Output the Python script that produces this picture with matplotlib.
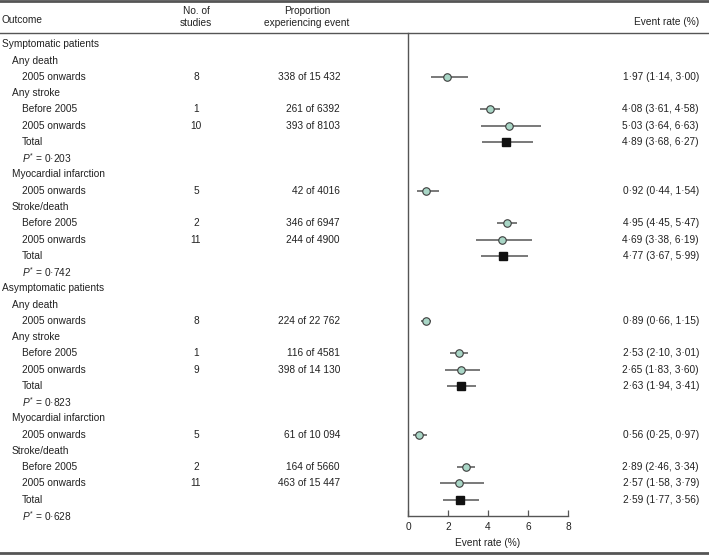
import matplotlib
matplotlib.use('Agg')
import matplotlib.pyplot as plt
from matplotlib.lines import Line2D
from matplotlib.transforms import blended_transform_factory

plt.rcParams['font.family'] = ['Liberation Sans', 'DejaVu Sans']
plt.rcParams['mathtext.fontset'] = 'custom'
plt.rcParams['mathtext.rm'] = 'Liberation Sans'
plt.rcParams['mathtext.it'] = 'Liberation Sans:italic'

# 表格数据 (每行一项)
labels = ['Symptomatic patients', 'Any death', '2005 onwards',
          'Any stroke', 'Before 2005', '2005 onwards', 'Total', r'$P^{*}$ = 0·203',
          'Myocardial infarction', '2005 onwards',
          'Stroke/death', 'Before 2005', '2005 onwards', 'Total', r'$P^{*}$ = 0·742',
          'Asymptomatic patients', 'Any death', '2005 onwards',
          'Any stroke', 'Before 2005', '2005 onwards', 'Total', r'$P^{*}$ = 0·823',
          'Myocardial infarction', '2005 onwards',
          'Stroke/death', 'Before 2005', '2005 onwards', 'Total', r'$P^{*}$ = 0·628']
indent = [0, 1, 2, 1, 2, 2, 2, 2, 1, 2, 1, 2, 2, 2, 2,
          0, 1, 2, 1, 2, 2, 2, 2, 1, 2, 1, 2, 2, 2, 2]
n_studies = ['', '', '8', '', '1', '10', '', '', '', '5', '', '2', '11', '', '',
             '', '', '8', '', '1', '9', '', '', '', '5', '', '2', '11', '', '']
events = ['', '', '338 of 15 432', '', '261 of 6392', '393 of 8103', '', '',
          '', '42 of 4016', '', '346 of 6947', '244 of 4900', '', '',
          '', '', '224 of 22 762', '', '116 of 4581', '398 of 14 130', '', '',
          '', '61 of 10 094', '', '164 of 5660', '463 of 15 447', '', '']
rate = [None, None, 1.97, None, 4.08, 5.03, 4.89, None, None, 0.92,
        None, 4.95, 4.69, 4.77, None,
        None, None, 0.89, None, 2.53, 2.65, 2.63, None, None, 0.56,
        None, 2.89, 2.57, 2.59, None]
lower = [None, None, 1.14, None, 3.61, 3.64, 3.68, None, None, 0.44,
         None, 4.45, 3.38, 3.67, None,
         None, None, 0.66, None, 2.10, 1.83, 1.94, None, None, 0.25,
         None, 2.46, 1.58, 1.77, None]
upper = [None, None, 3.00, None, 4.58, 6.63, 6.27, None, None, 1.54,
         None, 5.47, 6.19, 5.99, None,
         None, None, 1.15, None, 3.01, 3.60, 3.41, None, None, 0.97,
         None, 3.34, 3.79, 3.56, None]
is_total = [lab == 'Total' for lab in labels]

TXT = '#222222'
FS = 7.3

fig = plt.figure(figsize=(7.09, 5.55), dpi=100)
W, H = 709, 555
# 背景坐标 (像素)
ax0 = fig.add_axes([0, 0, 1, 1])
ax0.set_xlim(0, W)
ax0.set_ylim(H, 0)
ax0.axis('off')

# 森林图坐标轴
ax = fig.add_axes([408 / W, (H - 516) / H, 160 / W, (516 - 33) / H])
ax.set_xlim(0, 8)
ax.set_ylim(29.0, -0.7)
ax.patch.set_alpha(0)
for s in ['top', 'right']:
    ax.spines[s].set_visible(False)
for s in ['left', 'bottom']:
    ax.spines[s].set_color('#555555')
    ax.spines[s].set_linewidth(1.0)
ax.set_yticks([])
ax.set_xticks([0, 2, 4, 6, 8])
ax.tick_params(axis='x', direction='in', length=4, width=0.9, color='#555555',
               labelsize=FS, labelcolor=TXT, pad=4)
ax.set_xlabel('Event rate (%)', fontsize=FS, color=TXT, labelpad=5)

# 横线
for y, lw in [(1.2, 2.0), (33, 1.0), (553, 2.0)]:
    ax0.add_line(Line2D([0, W], [y, y], color='#555555', lw=lw))

# 表头
ax0.text(2, 20, 'Outcome', fontsize=FS, color=TXT, va='center')
ax0.text(196, 17, 'No. of\nstudies', fontsize=FS, color=TXT, ha='center', va='center', linespacing=1.35)
ax0.text(307, 17, 'Proportion\nexperiencing event', fontsize=FS, color=TXT, ha='center', va='center',
         linespacing=1.35)
ax0.text(699, 22, 'Event rate (%)', fontsize=FS, color=TXT, ha='right', va='center')

trans = blended_transform_factory(ax0.transData, ax.transData)
for i, lab in enumerate(labels):
    ax.text(1.5 + indent[i] * 10, i, lab, transform=trans, fontsize=FS, color=TXT, va='center')
    if n_studies[i]:
        ax.text(196, i, n_studies[i], transform=trans, fontsize=FS, color=TXT, ha='center', va='center')
    if events[i]:
        ax.text(340, i, events[i], transform=trans, fontsize=FS, color=TXT, ha='right', va='center')
    if rate[i] is not None:
        ax.text(699, i, '{:.2f} ({:.2f}, {:.2f})'.format(rate[i], lower[i], upper[i]).replace('.', '·'),
                transform=trans, fontsize=FS, color=TXT, ha='right', va='center')
        ax.hlines(i, lower[i], upper[i], color='#555555', lw=1.1, clip_on=False)
        if is_total[i]:
            ax.plot(rate[i], i, 's', ms=5.2, color='#111111', clip_on=False)
        else:
            ax.plot(rate[i], i, 'o', ms=5.4, mfc='#a9d6c6', mec='#3c3c3c', mew=0.8, clip_on=False)

fig.savefig('out.png', dpi=100)
